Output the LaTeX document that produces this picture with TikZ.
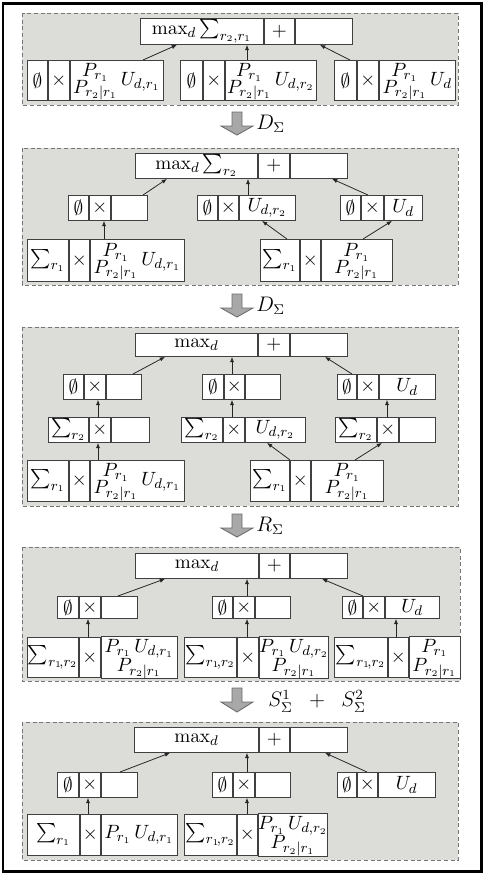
\documentclass[tikz,border=0pt]{standalone}
\usepackage{amsmath,amssymb}
\usepackage{xcolor}
\definecolor{panelgray}{RGB}{220,221,216}
\definecolor{dashgray}{RGB}{118,118,118}
\definecolor{blkfill}{RGB}{168,168,168}
\definecolor{blkline}{RGB}{108,108,108}
\usepackage{tikz}
\usetikzlibrary{arrows.meta,positioning,calc}
\def\pxu{0.57pt}
\tikzset{
  >={Latex[length=3pt,width=2.4pt]},
  cell/.style={draw=black!75,fill=white,line width=0.5pt,inner sep=0pt,font=\fontsize{11}{13}\selectfont},
  panel/.style={draw=dashgray,fill=panelgray,dash pattern=on 2.2pt off 1.6pt,line width=0.55pt},
  blk/.style={draw=blkline,fill=blkfill,line width=0.5pt},
  lab/.style={anchor=west,inner sep=0pt,font=\large},
  arr/.style={->,draw=black!85,line width=0.45pt},
}
\newcommand{\pq}[2]{\begin{array}{@{}c@{}}#1\\[-3.5pt]#2\end{array}}
\newcommand{\pqq}[2]{\begin{array}{@{}c@{}}#1\\[-2.2pt]#2\end{array}}
\newcommand{\trio}[9]{%
  \node[cell,minimum width=#3*\pxu,minimum height=#6*\pxu,anchor=north west] (#1a) at (#2) {#7};
  \node[cell,minimum width=#4*\pxu,minimum height=#6*\pxu,right=0pt of #1a] (#1b) {#8};
  \node[cell,minimum width=#5*\pxu,minimum height=#6*\pxu,right=0pt of #1b] (#1c) {#9};}

\begin{document}
\begin{tikzpicture}[x=\pxu,y=-\pxu]
\useasboundingbox (0,0) rectangle (486,874);
\draw[line width=1.3pt] (3,3.5) rectangle (481.5,871.5);

% first stage
\draw[panel] (22,13) rectangle (458,105);
\trio{t1}{140,18}{123}{30}{57}{26}{$\max_d\sum_{r_2,r_1}$}{$+$}{}
\trio{b11}{27,60}{20}{21}{93}{40}{$\emptyset$}{$\times$}{$\pq{P_{r_1}}{P_{r_2|r_1}}\,U_{d,r_1}$}
\trio{b12}{180,60}{22}{21}{91}{40}{$\emptyset$}{$\times$}{$\pq{P_{r_1}}{P_{r_2|r_1}}\,U_{d,r_2}$}
\trio{b13}{334,60}{22}{21}{76}{40}{$\emptyset$}{$\times$}{$\pq{P_{r_1}}{P_{r_2|r_1}}\,U_d$}
\draw[arr] ($(b11a.north west)+(116,0)$) -- ($(t1a.south west)+(37,0)$);
\draw[arr] ($(b12a.north west)+(67,0)$) -- ($(t1a.south west)+(107,0)$);
\draw[arr] ($(b13a.north west)+(16,0)$) -- ($(t1a.south west)+(180,0)$);

\draw[blk,shift={(237,112)}] (-5,0) -- (5,0) -- (5,14) -- (16,14) -- (0,23) -- (-16,14) -- (-5,14) -- cycle;
\node[lab] (l1) at (256,124) {$D_\Sigma$};

% second stage
\draw[panel] (22,148) rectangle (458,285);
\trio{t2}{135,153}{122}{31}{57}{25}{$\max_d\sum_{r_2}$}{$+$}{}
\trio{b21}{68,195}{20}{21}{36}{25}{$\emptyset$}{$\times$}{}
\trio{b22}{197,195}{20}{20}{56}{25}{$\emptyset$}{$\times$}{$U_{d,r_2}$}
\trio{b23}{340,195}{20}{22}{38}{25}{$\emptyset$}{$\times$}{$U_d$}
\trio{b24}{27,239}{41}{20}{94}{42}{$\sum_{r_1}$}{$\times$}{$\pq{P_{r_1}}{P_{r_2|r_1}}\,U_{d,r_1}$}
\trio{b25}{260,239}{39}{20}{71}{42}{$\sum_{r_1}$}{$\times$}{$\pq{P_{r_1}}{P_{r_2|r_1}}$}
\draw[arr] ($(b24a.north west)+(77,0)$) -- ($(b21a.south west)+(36,0)$);
\draw[arr] ($(b21a.north west)+(75,0)$) -- ($(t2a.south west)+(32,0)$);
\draw[arr] ($(b22a.north west)+(51,0)$) -- ($(t2a.south west)+(113,0)$);
\draw[arr] ($(b23a.north west)+(28,0)$) -- ($(t2a.south west)+(197,0)$);
\draw[arr] ($(b25a.north west)+(27,0)$) -- ($(b22a.south west)+(65,0)$);
\draw[arr] ($(b25a.north west)+(103,0)$) -- ($(b23a.south west)+(52,0)$);

\draw[blk,shift={(237,294)}] (-5,0) -- (5,0) -- (5,14) -- (16,14) -- (0,23) -- (-16,14) -- (-5,14) -- cycle;
\node[lab] (l2) at (256,306) {$D_\Sigma$};

% third stage
\draw[panel] (22,327) rectangle (458,506);
\trio{t3}{135,333}{122}{31}{57}{23}{$\max_d$}{$+$}{}
\trio{b31}{63,374}{20}{21}{35}{25}{$\emptyset$}{$\times$}{}
\trio{b32}{202,374}{21}{20}{35}{25}{$\emptyset$}{$\times$}{}
\trio{b33}{337,374}{19}{21}{56}{25}{$\emptyset$}{$\times$}{$U_d$}
\trio{b34}{48,417}{40}{21}{38}{25}{$\sum_{r_2}$}{$\times$}{}
\trio{b35}{181,417}{41}{21}{60}{25}{$\sum_{r_2}$}{$\times$}{$U_{d,r_2}$}
\trio{b36}{335,417}{41}{21}{36}{25}{$\sum_{r_2}$}{$\times$}{}
\trio{b37}{27,460}{41}{20}{94}{41}{$\sum_{r_1}$}{$\times$}{$\pq{P_{r_1}}{P_{r_2|r_1}}\,U_{d,r_1}$}
\trio{b38}{250,460}{39}{20}{72}{41}{$\sum_{r_1}$}{$\times$}{$\pq{P_{r_1}}{P_{r_2|r_1}}$}
\draw[arr] ($(b37a.north west)+(71,0)$) -- ($(b34a.south west)+(50,0)$);
\draw[arr] ($(b34a.north west)+(50,0)$) -- ($(b31a.south west)+(35,0)$);
\draw[arr] ($(b31a.north west)+(70,0)$) -- ($(t3a.south west)+(30,0)$);
\draw[arr] ($(b35a.north west)+(51,0)$) -- ($(b32a.south west)+(30,0)$);
\draw[arr] ($(b32a.north west)+(30,0)$) -- ($(t3a.south west)+(97,0)$);
\draw[arr] ($(b36a.north west)+(52,0)$) -- ($(b33a.south west)+(50,0)$);
\draw[arr] ($(b33a.north west)+(15,0)$) -- ($(t3a.south west)+(190,0)$);
\draw[arr] ($(b38a.north west)+(40,0)$) -- ($(b35a.south west)+(86,0)$);
\draw[arr] ($(b38a.north west)+(105,0)$) -- ($(b36a.south west)+(47,0)$);

\draw[blk,shift={(237,514)}] (-5,0) -- (5,0) -- (5,14) -- (16,14) -- (0,23) -- (-16,14) -- (-5,14) -- cycle;
\node[lab] (l3) at (256,526) {$R_\Sigma$};

% fourth stage
\draw[panel] (22,547) rectangle (460,681);
\trio{t4}{135,553}{123}{30}{57}{25}{$\max_d$}{$+$}{}
\trio{b41}{57,596}{21}{21}{36}{22}{$\emptyset$}{$\times$}{}
\trio{b42}{212,596}{20}{21}{35}{22}{$\emptyset$}{$\times$}{}
\trio{b43}{342,596}{20}{21}{54}{22}{$\emptyset$}{$\times$}{$U_d$}
\trio{b44}{27,637}{51}{21}{76}{40}{$\sum_{r_1\!,r_2}$}{$\times$}{$\pqq{P_{r_1}\,U_{d,r_1}}{P_{r_2|r_1}}$}
\trio{b45}{184,637}{52}{21}{67}{40}{$\sum_{r_1\!,r_2}$}{$\times$}{$\pqq{P_{r_1}\,U_{d,r_2}}{P_{r_2|r_1}}$}
\trio{b46}{334,637}{53}{20}{51}{40}{$\sum_{r_1\!,r_2}$}{$\times$}{$\pqq{P_{r_1}}{P_{r_2|r_1}}$}
\draw[arr] ($(b44a.north west)+(61,0)$) -- ($(b41a.south west)+(31,0)$);
\draw[arr] ($(b41a.north west)+(61,0)$) -- ($(t4a.south west)+(30,0)$);
\draw[arr] ($(b45a.north west)+(63,0)$) -- ($(b42a.south west)+(35,0)$);
\draw[arr] ($(b42a.north west)+(35,0)$) -- ($(t4a.south west)+(112,0)$);
\draw[arr] ($(b46a.north west)+(62,0)$) -- ($(b43a.south west)+(54,0)$);
\draw[arr] ($(b43a.north west)+(21,0)$) -- ($(t4a.south west)+(187,0)$);

\draw[blk,shift={(237,688)}] (-5,0) -- (5,0) -- (5,14) -- (16,14) -- (0,24) -- (-16,14) -- (-5,14) -- cycle;
\node[lab] (l4) at (268,701) {$S^1_\Sigma\;\;+\;\;S^2_\Sigma$};

% last stage
\draw[panel] (22,722) rectangle (458,860);
\trio{t5}{134,727}{124}{30}{57}{25}{$\max_d$}{$+$}{}
\trio{b51}{57,772}{21}{21}{36}{25}{$\emptyset$}{$\times$}{}
\trio{b52}{212,772}{20}{21}{35}{25}{$\emptyset$}{$\times$}{}
\trio{b53}{337,772}{19}{20}{57}{25}{$\emptyset$}{$\times$}{$U_d$}
\trio{b54}{27,814}{52}{20}{76}{41}{$\sum_{r_1}$}{$\times$}{$P_{r_1}\,U_{d,r_1}$}
\trio{b55}{184,814}{52}{20}{68}{41}{$\sum_{r_1\!,r_2}$}{$\times$}{$\pqq{P_{r_1}\,U_{d,r_2}}{P_{r_2|r_1}}$}
\draw[arr] ($(b54a.north west)+(61,0)$) -- ($(b51a.south west)+(31,0)$);
\draw[arr] ($(b51a.north west)+(63,0)$) -- ($(t5a.south west)+(36,0)$);
\draw[arr] ($(b55a.north west)+(63,0)$) -- ($(b52a.south west)+(35,0)$);
\draw[arr] ($(b52a.north west)+(35,0)$) -- ($(t5a.south west)+(113,0)$);
\draw[arr] ($(b53a.north west)+(30,0)$) -- ($(t5a.south west)+(191,0)$);
\end{tikzpicture}
\end{document}
